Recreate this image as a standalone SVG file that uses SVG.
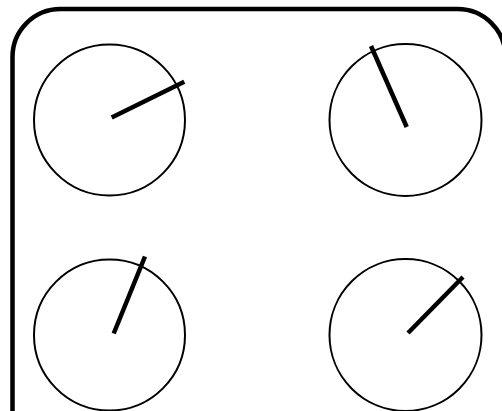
<svg xmlns="http://www.w3.org/2000/svg" width="502" height="411" viewBox="0 0 502 411">
<style>
.frame{fill:#fff;stroke:#000;stroke-width:4.5}
.dial{fill:none;stroke:#000;stroke-width:2}
.hand{stroke:#000;stroke-width:4.5;stroke-linecap:butt}
</style>
<rect width="502" height="411" fill="#fff"/>
<rect class="frame" x="12.5" y="9" width="493" height="500" rx="48" ry="48"/>
<g id="dial1"><circle class="dial" cx="109.5" cy="120" r="75.5"/><line class="hand" x1="111.7" y1="117.5" x2="184.3" y2="81.7"/></g>
<g id="dial2"><circle class="dial" cx="405.5" cy="120" r="76"/><line class="hand" x1="406.7" y1="127" x2="371" y2="46"/></g>
<g id="dial3"><circle class="dial" cx="109.5" cy="335" r="75.5"/><line class="hand" x1="113.7" y1="333.5" x2="145" y2="256.5"/></g>
<g id="dial4"><circle class="dial" cx="405.5" cy="335" r="76"/><line class="hand" x1="408" y1="333" x2="463" y2="277"/></g>
<g id="connectors"></g>
</svg>
